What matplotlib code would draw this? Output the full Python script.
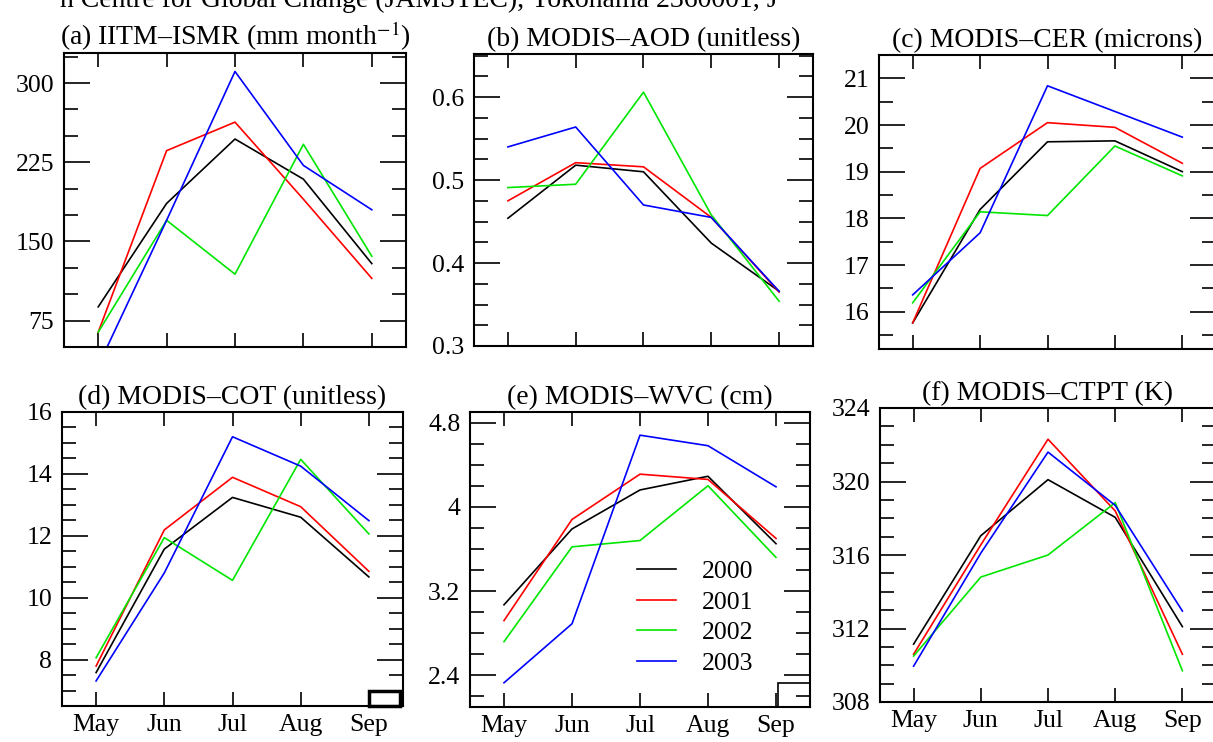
import numpy as np
import matplotlib
matplotlib.use("Agg")
import matplotlib.pyplot as plt
from matplotlib.ticker import MultipleLocator, FormatStrFormatter
from matplotlib.patches import Rectangle

plt.rcParams['font.family'] = ['Liberation Serif', 'DejaVu Serif']
plt.rcParams['mathtext.fontset'] = 'stix'

months = ['May', 'Jun', 'Jul', 'Aug', 'Sep']
years = ['2000', '2001', '2002', '2003']
colors = ['black', '#ff0000', '#00e600', '#0000ff']

# values, one row per year (2000..2003)
ismr = [[88, 186, 247, 209, 129],
        [64, 236, 263, 190, 115],
        [64, 170, 119, 242, 136],
        [32, 170, 311, 222, 180]]
aod = [[0.454, 0.518, 0.510, 0.424, 0.366],
       [0.475, 0.521, 0.516, 0.455, 0.365],
       [0.491, 0.495, 0.606, 0.458, 0.354],
       [0.540, 0.564, 0.470, 0.455, 0.366]]
cer = [[15.76, 18.19, 19.64, 19.66, 19.00],
       [15.76, 19.07, 20.05, 19.95, 19.18],
       [16.19, 18.14, 18.06, 19.55, 18.91],
       [16.36, 17.69, 20.84, 20.29, 19.74]]
cot = [[7.58, 11.57, 13.24, 12.60, 10.67],
       [7.79, 12.19, 13.89, 12.94, 10.85],
       [8.06, 11.94, 10.56, 14.47, 12.06],
       [7.31, 10.80, 15.20, 14.25, 12.49]]
wvc = [[3.07, 3.79, 4.16, 4.29, 3.65],
       [2.92, 3.88, 4.31, 4.26, 3.70],
       [2.72, 3.62, 3.68, 4.20, 3.52],
       [2.33, 2.89, 4.68, 4.58, 4.19]]
ctpt = [[311.15, 317.05, 320.1, 318.05, 312.1],
        [310.6, 316.55, 322.3, 318.4, 310.6],
        [310.5, 314.8, 316.0, 318.85, 309.7],
        [309.95, 316.1, 321.6, 318.7, 312.95]]

W, H = 1213, 742
fig = plt.figure(figsize=(W / 100, H / 100), dpi=100)


def px_axes(left, top, right, bottom):
    return fig.add_axes([left / W, 1 - bottom / H, (right - left) / W, (bottom - top) / H])


panels = [
    # data, title, box(px), ylim, major, minor, fmt
    (ismr, '(a) IITM\u2013ISMR (mm month$^{-1}$)', (64, 53, 406, 347), (50, 328.5), 75, 25, '%g'),
    (aod, '(b) MODIS\u2013AOD (unitless)', (474, 54, 813, 346), (0.3, 0.652), 0.1, 0.025, '%.1f'),
    (cer, '(c) MODIS\u2013CER (microns)', (879, 55, 1216, 349), (15.2, 21.5), 1, 0.5, '%g'),
    (cot, '(d) MODIS\u2013COT (unitless)', (62, 412, 403, 706), (6.5, 16), 2, 0.5, '%g'),
    (wvc, '(e) MODIS\u2013WVC (cm)', (470, 412, 810, 707), (2.1, 4.9), 0.8, 0.2, '%g'),
    (ctpt, '(f) MODIS\u2013CTPT (K)', (880, 408, 1216, 702), (308, 324), 4, 1, '%g'),
]

fs = 18.5
x = np.arange(len(months))
axes = []
for i, (data, title, box, ylim, major, minor, fmt) in enumerate(panels):
    ax = px_axes(*box)
    axes.append(ax)
    for row, c, yr in zip(data, colors, years):
        ax.plot(x, row, color=c, lw=1.2, label=yr)
    ax.set_xlim(-0.5, 4.5)
    ax.set_ylim(*ylim)
    ax.set_xticks(x)
    if i >= 3:
        ax.set_xticklabels(months)
    else:
        ax.set_xticklabels([])
    ax.yaxis.set_major_locator(MultipleLocator(major))
    ax.yaxis.set_minor_locator(MultipleLocator(minor))
    ax.yaxis.set_major_formatter(FormatStrFormatter(fmt))
    ax.tick_params(which='both', direction='in', top=True, right=True,
                   width=1.2, labelsize=fs, colors='black')
    ax.tick_params(axis='y', which='major', length=19, pad=7)
    ax.tick_params(axis='y', which='minor', length=10)
    ax.tick_params(axis='x', which='major', length=10, pad=6)
    for s in ax.spines.values():
        s.set_linewidth(1.5)
    ax.set_title(title, fontsize=20, pad=6)

# legend in panel (e)
axes[4].legend(loc='lower right', bbox_to_anchor=(0.9, 0.03), frameon=False,
               fontsize=fs, handlelength=1.5, handletextpad=1.0, labelspacing=0.3)

# small leftover boxes in the corners of (d) and (e)
axes[3].add_patch(Rectangle((0.90, 0.0), 0.09, 0.05, transform=axes[3].transAxes,
                            fill=False, lw=2.5, ec='black', clip_on=False))
axes[4].add_patch(Rectangle((0.905, 0.0), 0.095, 0.08, transform=axes[4].transAxes,
                            fill=False, lw=1.2, ec='black', clip_on=False))

# caption of the page above, cut off at the top edge as in the source
fig.text(0.345, 1 - 7 / H, 'h Centre for Global Change (JAMSTEC), Yokohama 2360001, J',
         fontsize=20, ha='center', va='baseline')

fig.savefig('out.png', dpi=100)
